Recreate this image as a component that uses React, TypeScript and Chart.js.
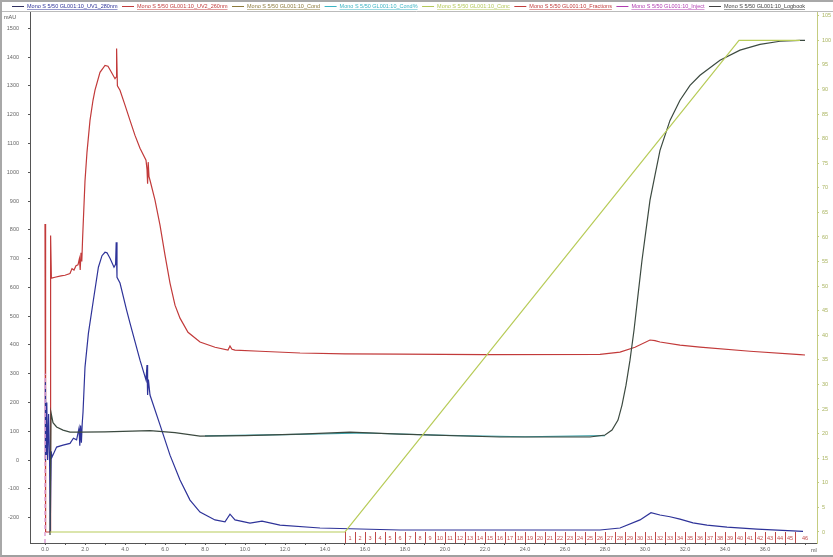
import React, { useEffect, useRef } from "react";
import { Chart, registerables } from "chart.js";
Chart.register(...registerables);

// ---------- data (volume in ml) ----------
const uv2Vol = [0.0, 0.03, 0.26, 0.28, 0.32, 0.5, 0.8, 1.0, 1.25, 1.35, 1.45, 1.55, 1.65, 1.72, 1.76, 1.8, 1.84, 1.88, 2.0, 2.1, 2.25, 2.4, 2.5, 2.75, 3.0, 3.15, 3.3, 3.5, 3.55, 3.58, 3.62, 3.75, 4.0, 4.25, 4.5, 4.75, 5.05, 5.1, 5.13, 5.16, 5.2, 5.25, 5.5, 5.75, 6.0, 6.25, 6.5, 6.75, 7.15, 7.75, 8.5, 9.15, 9.25, 9.35, 9.5, 10.75, 12.75, 15.0, 17.75, 22.0, 27.75, 28.75, 29.5, 30.25, 30.5, 30.75, 31.75, 32.75, 35.25, 37.75, 38.0];
const uv2Mau = [820, -250, -250, 780, 632, 635, 640, 642, 648, 665, 660, 675, 678, 700, 660, 720, 690, 770, 970, 1070, 1180, 1250, 1285, 1347, 1371, 1368, 1350, 1325, 1330, 1430, 1300, 1285, 1233, 1180, 1128, 1083, 1042, 1010, 960, 1035, 985, 972, 903, 816, 712, 615, 538, 493, 444, 410, 392, 382, 396, 385, 382, 378, 372, 369, 368, 366, 367, 375, 392, 417, 415, 410, 399, 392, 378, 366, 365];

const uv1Vol = [0.0, 0.02, 0.05, 0.09, 0.13, 0.18, 0.23, 0.26, 0.29, 0.31, 0.35, 0.58, 0.9, 1.25, 1.42, 1.58, 1.7, 1.74, 1.78, 1.82, 1.86, 1.9, 2.0, 2.17, 2.42, 2.67, 2.85, 3.0, 3.1, 3.25, 3.45, 3.53, 3.56, 3.6, 3.75, 4.08, 4.25, 4.75, 5.05, 5.1, 5.13, 5.17, 5.25, 5.75, 6.25, 6.75, 7.25, 7.75, 8.5, 9.0, 9.25, 9.5, 10.25, 10.85, 11.75, 13.75, 17.75, 27.75, 28.75, 29.75, 30.3, 30.75, 31.25, 31.75, 32.4, 33.1, 34.1, 35.6, 37.9];
const uv1Mau = [0, 270, 20, 200, 0, 160, -10, -250, -250, 30, 10, 45, 52, 58, 76, 70, 110, 50, 120, 60, 125, 165, 323, 440, 556, 670, 710, 722, 720, 701, 670, 680, 757, 635, 615, 521, 476, 347, 278, 330, 226, 280, 226, 122, 17, -69, -139, -181, -208, -215, -188, -208, -219, -212, -226, -236, -243, -243, -236, -208, -183, -191, -197, -205, -218, -226, -233, -240, -248];

const condVol = [0.25, 0.28, 0.3, 0.4, 0.58, 0.9, 1.25, 1.75, 3.0, 5.25, 6.5, 7.75, 10.0, 12.75, 15.25, 17.75, 22.75, 27.25, 28.0, 28.35, 28.65, 28.85, 29.05, 29.25, 29.45, 29.65, 29.85, 30.05, 30.25, 30.5, 30.75, 31.25, 31.75, 32.25, 32.75, 33.75, 34.75, 35.75, 36.75, 37.75, 38.0];
const condVal = [-260, -260, 165, 130, 115, 104, 97, 97, 98, 102, 95, 83, 85, 90, 97, 90, 80, 80, 87, 104, 139, 191, 260, 347, 451, 573, 694, 799, 903, 990, 1076, 1180, 1250, 1302, 1337, 1389, 1424, 1444, 1455, 1458, 1458];

const condPctVol = [8.0, 12.0, 16.0, 20.0, 24.0, 28.0];
const condPctVal = [84, 88, 94, 86, 81, 85];

const concVol = [0.25, 15.0, 34.7, 37.75];
const concPct = [0, 0, 100, 100];

const injectVol = [0.0, 0.0];
const injectMau = [-288, 300];

// fraction start volumes (fraction 46 runs to the end of the run)
const fractionStarts = [15.0, 15.5, 16.0, 16.5, 17.0, 17.5, 18.0, 18.5, 19.0, 19.5, 20.0, 20.5, 21.0, 21.5, 22.0, 22.5, 23.0, 23.5, 24.0, 24.5, 25.0, 25.5, 26.0, 26.5, 27.0, 27.5, 28.0, 28.5, 29.0, 29.5, 30.0, 30.5, 31.0, 31.5, 32.0, 32.5, 33.0, 33.5, 34.0, 34.5, 35.0, 35.5, 36.0, 36.5, 37.0, 37.5];
const fractionLabels = ["1", "2", "3", "4", "5", "6", "7", "8", "9", "10", "11", "12", "13", "14", "15", "16", "17", "18", "19", "20", "21", "22", "23", "24", "25", "26", "27", "28", "29", "30", "31", "32", "33", "34", "35", "36", "37", "38", "39", "40", "41", "42", "43", "44", "45", "46"];

const legendNames = [
  "Mono S 5/50 GL001:10_UV1_280nm",
  "Mono S 5/50 GL001:10_UV2_260nm",
  "Mono S 5/50 GL001:10_Cond",
  "Mono S 5/50 GL001:10_Cond%",
  "Mono S 5/50 GL001:10_Conc",
  "Mono S 5/50 GL001:10_Fractions",
  "Mono S 5/50 GL001:10_Inject",
  "Mono S 5/50 GL001:10_Logbook",
];
const legendColors = ["#2e3399", "#c03c3c", "#8c7a3c", "#3cb4c4", "#b4c85a", "#c03c3c", "#b03cb0", "#404040"];

const C_UV1 = "#2e3399";
const C_UV2 = "#c23a3a";
const C_COND = "#3c4a40";
const C_CONDP = "#3aa0a8";
const C_CONC = "#b8cc5a";
const C_FRAC = "#c04848";
const C_INJ = "#e0a8d8";

const pts = (xs: number[], ys: number[]) => xs.map((x, i) => ({ x, y: ys[i] }));

const FONT = "'Liberation Sans', Arial, sans-serif";

const extras = {
  id: "extras",
  afterDatasetsDraw(chart: any) {
    const ctx = chart.ctx;
    const xs = chart.scales.x;
    const yr = chart.scales.yR;
    const area = chart.chartArea;
    ctx.save();
    const top = yr.getPixelForValue(0);
    const bot = area.bottom;
    ctx.strokeStyle = C_FRAC;
    ctx.lineWidth = 1;
    ctx.fillStyle = C_FRAC;
    ctx.font = `5.5px ${FONT}`;
    ctx.textAlign = "center";
    ctx.textBaseline = "middle";
    fractionStarts.forEach((b) => {
      const px = Math.round(xs.getPixelForValue(b)) + 0.5;
      ctx.beginPath();
      ctx.moveTo(px, top);
      ctx.lineTo(px, bot);
      ctx.stroke();
    });
    fractionLabels.forEach((lab, i) => {
      const a = xs.getPixelForValue(fractionStarts[i]);
      const b = i + 1 < fractionStarts.length ? xs.getPixelForValue(fractionStarts[i + 1]) : a + 20;
      ctx.fillText(lab, (a + b) / 2, (top + bot) / 2 + 0.5);
    });
    ctx.restore();
  },
  afterDraw(chart: any) {
    const ctx = chart.ctx;
    const area = chart.chartArea;
    ctx.save();
    ctx.fillStyle = "#555";
    ctx.font = `5.5px ${FONT}`;
    ctx.textBaseline = "middle";
    ctx.textAlign = "left";
    ctx.fillText("mAU", 4, 17);
    ctx.fillText("ml", area.right - 6, 550);
    // legend
    let x = 12;
    const y = 6.5;
    legendNames.forEach((name, i) => {
      ctx.strokeStyle = i === 0 ? "#303060" : legendColors[i];
      ctx.lineWidth = 1;
      ctx.beginPath();
      ctx.moveTo(x, y);
      ctx.lineTo(x + 12, y);
      ctx.stroke();
      x += 15;
      ctx.fillStyle = legendColors[i];
      ctx.fillText(name, x, y);
      const w = ctx.measureText(name).width;
      ctx.beginPath();
      ctx.strokeStyle = legendColors[i];
      ctx.lineWidth = 0.5;
      ctx.moveTo(x, y + 3);
      ctx.lineTo(x + w, y + 3);
      ctx.stroke();
      x += w + 4.5;
    });
    ctx.strokeStyle = "#bbb";
    ctx.lineWidth = 1;
    ctx.beginPath();
    ctx.moveTo(0, 11.5);
    ctx.lineTo(833, 11.5);
    ctx.stroke();
    ctx.restore();
  },
};

export default function App() {
  const ref = useRef<HTMLCanvasElement | null>(null);
  useEffect(() => {
    document.body.style.margin = "0";
    const canvas = ref.current!;
    const line = (label: string, data: any[], color: string, axis: string, extra: any = {}) => ({
      label,
      data,
      borderColor: color,
      backgroundColor: color,
      borderWidth: 1.2,
      pointRadius: 0,
      tension: 0,
      yAxisID: axis,
      ...extra,
    });
    const chart = new Chart(canvas, {
      type: "line",
      data: {
        datasets: [
          line("Conc", pts(concVol, concPct), C_CONC, "yR"),
          line("Inject", pts(injectVol, injectMau), C_INJ, "y", { borderDash: [4, 3], borderWidth: 1.6 }),
          line("Cond", pts(condVol, condVal), C_COND, "y"),
          line("Cond%", pts(condPctVol, condPctVal), C_CONDP, "y"),
          line("UV1_280nm", pts(uv1Vol, uv1Mau), C_UV1, "y"),
          line("UV2_260nm", pts(uv2Vol, uv2Mau), C_UV2, "y"),
        ],
      },
      options: {
        animation: false,
        responsive: false,
        maintainAspectRatio: false,
        layout: { padding: { top: 12, left: 0, right: 0, bottom: 0 } },
        plugins: { legend: { display: false }, tooltip: { enabled: false } },
        scales: {
          x: {
            type: "linear",
            min: -0.75,
            max: 38.6,
            afterFit: (s: any) => { s.height = 14; },
            border: { display: true, color: "#555", width: 1 },
            grid: { drawOnChartArea: false, drawTicks: true, tickLength: 2, color: "#555" },
            ticks: {
              stepSize: 1,
              includeBounds: false,
              autoSkip: false,
              maxRotation: 0,
              padding: 1,
              color: "#666",
              font: { size: 5.5, family: FONT },
              callback: (v: any) => (Math.round(v) % 2 === 0 && v < 37 ? Number(v).toFixed(1) : ""),
            },
          },
          y: {
            type: "linear",
            position: "left",
            min: -288.2,
            max: 1555.6,
            afterFit: (s: any) => { s.width = 30; },
            border: { display: true, color: "#555", width: 1 },
            grid: { drawOnChartArea: false, drawTicks: true, tickLength: 2, color: "#555" },
            ticks: {
              stepSize: 100,
              includeBounds: false,
              autoSkip: false,
              padding: 9,
              color: "#666",
              font: { size: 5.5, family: FONT },
              callback: (v: any) => String(Math.round(v)),
            },
          },
          yR: {
            type: "linear",
            position: "right",
            min: -2.24,
            max: 105.7,
            afterFit: (s: any) => { s.width = 16; },
            border: { display: true, color: "#c4cc80", width: 1 },
            grid: { drawOnChartArea: false, drawTicks: true, tickLength: 2, color: "#c4cc80" },
            ticks: {
              stepSize: 5,
              includeBounds: false,
              autoSkip: false,
              padding: 3,
              color: "#aab460",
              font: { size: 5.5, family: FONT },
              callback: (v: any) => String(Math.round(v)),
            },
          },
        },
      },
      plugins: [extras],
    });
    return () => chart.destroy();
  }, []);
  return (
    <div style={{ position: "relative", width: 833, height: 557, background: "#fff" }}>
      <canvas ref={ref} width={833} height={557} style={{ display: "block" }} />
      <div
        style={{
          position: "absolute",
          left: 0,
          top: 0,
          width: 833,
          height: 557,
          boxSizing: "border-box",
          borderTop: "2px solid #a8a8a8",
          borderLeft: "2px solid #a8a8a8",
          borderBottom: "2px solid #a0a0a0",
          pointerEvents: "none",
        }}
      />
    </div>
  );
}
